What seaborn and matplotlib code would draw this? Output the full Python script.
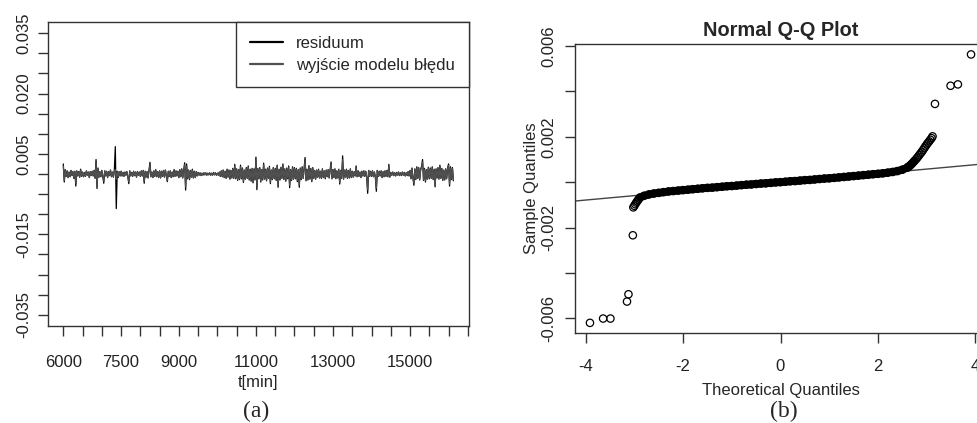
import numpy as np
import pandas as pd
import matplotlib
matplotlib.use("Agg")
import matplotlib.pyplot as plt
import seaborn as sns

# ---------------- panel (a): residual time series ----------------
t_start = 6000      # first sample [min]
t_step = 25         # spacing of the read-off samples [min]

# values in units of 1e-3, one row = 500 minutes
residuum_e3 = [
    2.5, -2.0, 1.1, -0.6, 0.8, -0.9, 0.5, -0.7, 0.9, -0.4, 0.6, -1.1, 0.7, -3.0, 0.8, -0.5, 0.6, -0.8, 1.2, -0.6,
    0.5, -0.7, 0.4, -0.6, 0.8, -0.3, 0.5, -0.9, 0.6, -0.4, 0.7, -0.5, 0.9, -1.1, 3.6, -3.6, 1.5, -0.8, 0.6, -0.7,
    0.9, -0.6, -2.3, 0.8, -0.5, 0.7, -0.9, 0.6, -0.4, 1.0, -0.7, 0.5, -0.8, 0.9, 6.8, -8.6, 0.7, -0.9, 0.6, -0.5,
    0.7, -0.5, 0.4, -0.6, 0.5, -0.3, 0.6, -0.7, -2.4, 0.8, -0.5, 0.4, -0.6, 0.7, -0.4, 0.5, -0.8, 0.6, -0.3, 0.5,
    -0.6, 0.8, -0.5, 0.9, -2.3, 0.7, -0.8, 0.6, -1.0, 0.9, 2.9, -0.7, 0.5, -0.9, 0.8, -0.6, 1.1, -0.7, 0.6, -0.9,
    0.8, -1.0, 0.7, -0.6, 0.9, -0.8, 1.0, -0.5, -1.9, 0.7, -0.6, 0.8, -0.9, 0.5, -0.7, 1.1, -0.6, 0.8, -0.5, 0.7,
    -0.9, 1.1, -0.7, 1.3, -1.0, 0.8, 2.8, -4.0, 2.5, -1.2, 1.0, -1.4, 0.9, -0.8, 1.2, -1.0, 0.7, -0.9, 0.6, -0.5,
    0.4, -0.3, 0.3, -0.4, 0.2, -0.3, 0.3, -0.2, 0.3, -0.3, 0.2, -0.2, 0.3, -0.3, 0.2, -0.3, 0.4, -0.2, 0.3, -0.3,
    0.2, -0.3, 0.5, -0.6, 0.8, -0.7, 1.0, -0.9, 0.7, -1.1, 1.2, -0.8, 1.0, -1.3, 0.9, -1.0, 1.4, -1.1, 2.4, -1.2,
    1.3, -1.6, 1.1, -1.4, 2.2, -1.2, 1.5, -2.1, 1.0, -1.3, 1.6, -1.1, 2.0, -1.5, 1.2, -1.8, 1.4, -2.2, 1.3, -1.5,
    4.2, -3.9, 1.4, -1.2, 1.6, -2.0, 1.1, -1.5, 2.7, -1.3, 1.2, -1.7, 1.5, -1.1, 1.9, -2.4, 1.0, -1.4, 1.6, -1.2,
    1.4, -1.6, 2.2, -3.3, 1.2, -1.5, 1.7, -1.1, 2.5, -1.4, 1.3, -1.8, 1.5, -1.2, 2.0, -3.4, 1.1, -1.6, 1.8, -1.3,
    1.6, -1.2, 1.4, -1.9, 1.1, -3.3, 1.5, -1.4, 1.8, -1.1, 1.3, 4.1, -1.7, 1.2, -1.5, 2.1, -1.3, 1.4, -1.9, 1.6,
    -1.1, 0.9, -1.3, 1.0, -0.8, 1.2, -1.0, 0.7, -1.1, 1.3, -0.9, 0.8, -1.2, 1.0, -0.7, 1.1, -1.0, 0.9, 3.0, -1.2,
    1.1, -0.9, 1.3, -1.2, 0.8, -1.0, 1.2, -2.5, 0.9, -1.1, 4.5, -1.3, 1.0, -0.8, 1.2, -1.1, 0.9, -1.0, 1.3, -0.9,
    0.7, -0.8, 0.6, -0.5, 2.0, -0.7, 0.8, -0.6, 0.5, -0.9, 0.7, -0.5, 0.8, -0.6, 0.7, -0.8, -4.8, 0.9, -0.6, 0.7,
    -0.6, 0.8, -0.7, 0.5, -0.8, -4.3, 0.9, -0.6, 0.7, -0.5, 0.8, -0.9, 0.6, -0.7, 0.8, -0.6, 0.9, -0.7, 2.4, -0.8,
    0.4, -0.3, 0.5, -0.4, 0.3, -0.5, 0.4, -0.3, 0.5, -0.4, 0.3, -0.4, 0.5, -0.3, 0.4, -0.5, 0.3, -0.4, 0.6, -0.5,
    0.9, -1.2, 1.5, -1.0, -2.8, 1.3, -1.4, 1.8, -1.1, 1.6, -1.5, 1.2, 1.9, 3.6, -1.6, 1.4, -2.0, 1.1, -1.3, 1.7,
    -1.2, 1.5, -1.1, 1.8, -1.4, 1.2, -3.2, 1.3, -1.0, 1.6, -1.3, 2.2, -1.1, 1.4, -1.6, 1.0, -1.5, 1.3, -1.2, 1.5,
    2.5, -3.0, 1.8, -1.4, 1.6, -1.7,
]
model_e3 = [
    2.0, -1.6, 0.9, -0.5, 0.7, -0.8, 0.4, -0.6, 0.8, -0.3, 0.5, -0.9, 0.6, -2.3, 0.7, -0.4, 0.5, -0.7, 1.0, -0.5,
    0.4, -0.6, 0.3, -0.5, 0.7, -0.3, 0.4, -0.8, 0.5, -0.3, 0.6, -0.4, 0.8, -0.9, 2.6, -2.9, 1.2, -0.7, 0.5, -0.6,
    0.8, -0.5, -1.8, 0.7, -0.4, 0.6, -0.8, 0.5, -0.3, 0.9, -0.6, 0.4, -0.7, 0.8, 1.1, -1.3, 0.6, -0.8, 0.5, -0.4,
    0.6, -0.4, 0.3, -0.5, 0.4, -0.3, 0.5, -0.6, -1.9, 0.7, -0.4, 0.3, -0.5, 0.6, -0.3, 0.4, -0.7, 0.5, -0.3, 0.4,
    -0.5, 0.7, -0.4, 0.8, -1.8, 0.6, -0.7, 0.5, -0.9, 0.8, 2.3, -0.6, 0.4, -0.8, 0.7, -0.5, 0.9, -0.6, 0.5, -0.8,
    0.7, -0.9, 0.6, -0.5, 0.8, -0.7, 0.9, -0.4, -1.6, 0.6, -0.5, 0.7, -0.8, 0.4, -0.6, 0.9, -0.5, 0.7, -0.4, 0.6,
    -0.8, 0.9, -0.6, 1.1, -0.9, 0.7, 2.3, -3.2, 2.0, -1.0, 0.9, -1.2, 0.8, -0.7, 1.0, -0.9, 0.6, -0.8, 0.5, -0.4,
    0.3, -0.3, 0.2, -0.3, 0.2, -0.2, 0.3, -0.2, 0.2, -0.3, 0.2, -0.2, 0.2, -0.3, 0.2, -0.2, 0.3, -0.2, 0.2, -0.3,
    0.2, -0.3, 0.4, -0.5, 0.7, -0.6, 0.9, -0.8, 0.6, -0.9, 1.0, -0.7, 0.9, -1.1, 0.8, -0.9, 1.2, -0.9, 2.0, -1.0,
    1.1, -1.4, 1.0, -1.2, 1.8, -1.0, 1.3, -1.8, 0.9, -1.1, 1.4, -1.0, 1.7, -1.3, 1.0, -1.5, 1.2, -1.9, 1.1, -1.3,
    3.4, -3.1, 1.2, -1.0, 1.4, -1.7, 1.0, -1.3, 2.3, -1.1, 1.0, -1.5, 1.3, -1.0, 1.6, -2.0, 0.9, -1.2, 1.4, -1.0,
    1.2, -1.4, 1.9, -2.7, 1.0, -1.3, 1.5, -1.0, 2.1, -1.2, 1.1, -1.5, 1.3, -1.0, 1.7, -2.8, 1.0, -1.4, 1.5, -1.1,
    1.4, -1.0, 1.2, -1.6, 1.0, -2.7, 1.3, -1.2, 1.5, -1.0, 1.1, 3.3, -1.5, 1.0, -1.3, 1.8, -1.1, 1.2, -1.6, 1.4,
    -1.0, 0.8, -1.1, 0.9, -0.7, 1.0, -0.9, 0.6, -1.0, 1.1, -0.8, 0.7, -1.0, 0.9, -0.6, 1.0, -0.9, 0.8, 2.5, -1.0,
    1.0, -0.8, 1.1, -1.0, 0.7, -0.9, 1.0, -2.1, 0.8, -1.0, 3.6, -1.1, 0.9, -0.7, 1.0, -1.0, 0.8, -0.9, 1.1, -0.8,
    0.6, -0.7, 0.5, -0.4, 1.7, -0.6, 0.7, -0.5, 0.4, -0.8, 0.6, -0.4, 0.7, -0.5, 0.6, -0.7, -3.9, 0.8, -0.5, 0.6,
    -0.5, 0.7, -0.6, 0.4, -0.7, -3.5, 0.8, -0.5, 0.6, -0.4, 0.7, -0.8, 0.5, -0.6, 0.7, -0.5, 0.8, -0.6, 2.0, -0.7,
    0.3, -0.3, 0.4, -0.3, 0.3, -0.4, 0.3, -0.3, 0.4, -0.3, 0.3, -0.3, 0.4, -0.3, 0.3, -0.4, 0.3, -0.3, 0.5, -0.4,
    0.8, -1.0, 1.3, -0.9, -2.3, 1.1, -1.2, 1.5, -1.0, 1.4, -1.3, 1.0, 1.6, 3.0, -1.4, 1.2, -1.7, 1.0, -1.1, 1.5,
    -1.0, 1.3, -1.0, 1.5, -1.2, 1.0, -2.7, 1.1, -0.9, 1.4, -1.1, 1.8, -1.0, 1.2, -1.4, 0.9, -1.3, 1.1, -1.0, 1.3,
    2.1, -2.5, 1.5, -1.2, 1.4, -1.5,
]
series_names = ["residuum", "wyjście modelu błędu"]

xticks_a = [6000, 6500, 7000, 7500, 8000, 8500, 9000, 9500, 10000, 10500,
            11000, 11500, 12000, 12500, 13000, 13500, 14000, 14500, 15000,
            15500, 16000, 16500]
xticklabels_a = ["6000", "", "", "7500", "", "", "9000", "", "", "",
                 "11000", "", "", "", "13000", "", "", "", "15000",
                 "", "", ""]
yticks_a = [-0.035, -0.030, -0.025, -0.020, -0.015, -0.010, -0.005, 0.0,
            0.005, 0.010, 0.015, 0.020, 0.025, 0.030, 0.035]
yticklabels_a = ["-0.035", "", "", "", "-0.015", "", "", "",
                 "0.005", "", "", "0.020", "", "", "0.035"]

# ---------------- panel (b): normal Q-Q plot ----------------
qq_theoretical = [
    -3.91, -3.64, -3.49, -3.15, -3.12, -3.03,
    -3.02, -3.00, -2.98, -2.96, -2.94, -2.92, -2.90, -2.88,
    -2.80, -2.70, -2.60, -2.50, -2.40, -2.30, -2.20, -2.10, -2.00,
    -1.90, -1.80, -1.70, -1.60, -1.50, -1.40, -1.30, -1.20, -1.10, -1.00,
    -0.90, -0.80, -0.70, -0.60, -0.50, -0.40, -0.30, -0.20, -0.10, 0.00,
    0.10, 0.20, 0.30, 0.40, 0.50, 0.60, 0.70, 0.80, 0.90, 1.00,
    1.10, 1.20, 1.30, 1.40, 1.50, 1.60, 1.70, 1.80, 1.90, 2.00,
    2.10, 2.20, 2.30, 2.40, 2.50, 2.60,
    2.625, 2.65, 2.675, 2.70, 2.725, 2.75, 2.775, 2.80, 2.825, 2.85,
    2.875, 2.90, 2.925, 2.95, 2.975, 3.00, 3.025, 3.05, 3.075, 3.10, 3.12,
    3.17, 3.49, 3.64, 3.91,
]
qq_sample_e3 = [
    -6.20, -6.01, -6.01, -5.26, -4.94, -2.34,
    -1.11, -1.04, -0.97, -0.90, -0.84, -0.78, -0.72, -0.67,
    -0.60, -0.54, -0.50, -0.47, -0.44, -0.41, -0.39, -0.37, -0.35,
    -0.33, -0.31, -0.29, -0.27, -0.25, -0.24, -0.22, -0.20, -0.18, -0.17,
    -0.15, -0.13, -0.11, -0.10, -0.08, -0.06, -0.05, -0.03, -0.01, 0.00,
    0.02, 0.04, 0.05, 0.07, 0.09, 0.10, 0.12, 0.14, 0.16, 0.17,
    0.19, 0.21, 0.23, 0.25, 0.27, 0.29, 0.31, 0.33, 0.35, 0.37,
    0.39, 0.42, 0.45, 0.49, 0.55, 0.64,
    0.68, 0.72, 0.77, 0.82, 0.88, 0.94, 1.00, 1.06, 1.13, 1.20,
    1.27, 1.34, 1.42, 1.50, 1.58, 1.66, 1.73, 1.80, 1.87, 1.94, 2.02,
    3.45, 4.25, 4.31, 5.63,
]
qq_line_intercept = -0.000008
qq_line_slope = 0.000195

xticks_b = [-4, -2, 0, 2, 4]
xticklabels_b = ["-4", "-2", "0", "2", "4"]
yticks_b = [-0.006, -0.004, -0.002, 0.0, 0.002, 0.004, 0.006]
yticklabels_b = ["-0.006", "", "-0.002", "", "0.002", "", "0.006"]

# ---------------- build tables ----------------
n = len(residuum_e3)
t = t_start + t_step * np.arange(n)
df_a = pd.DataFrame({
    "t": t,
    "residuum": np.array(residuum_e3) * 1e-3,
    "model": np.array(model_e3) * 1e-3,
})
df_b = pd.DataFrame({
    "theo": qq_theoretical,
    "sample": np.array(qq_sample_e3) * 1e-3,
})

# ---------------- style ----------------
sns.set_style("ticks")
plt.rcParams["font.family"] = ["Liberation Sans", "DejaVu Sans"]
plt.rcParams["font.size"] = 12
edge = "#333333"
plt.rcParams["axes.edgecolor"] = edge
plt.rcParams["axes.linewidth"] = 1.0

fig = plt.figure(figsize=(9.77, 4.23), dpi=100)
W, H = 977.0, 423.0
ax1 = fig.add_axes([48 / W, 1 - 326 / H, (469 - 48) / W, (326 - 22) / H])
ax2 = fig.add_axes([575 / W, 1 - 333.3 / H, (986 - 575) / W, (333.3 - 44) / H])

# ---- panel (a)
sns.lineplot(data=df_a, x="t", y="residuum", ax=ax1, color="black", lw=0.9,
             estimator=None, sort=False, label=series_names[0])
sns.lineplot(data=df_a, x="t", y="model", ax=ax1, color="#505050", lw=0.9,
             estimator=None, sort=False, label=series_names[1])
ax1.set_xlim(5603, 16530)
ax1.set_ylim(-0.0378, 0.0378)
ax1.set_xticks(xticks_a)
ax1.set_xticklabels(xticklabels_a)
ax1.set_yticks(yticks_a)
ax1.set_yticklabels(yticklabels_a, rotation=90, va="center")
ax1.set_xlabel("t[min]", labelpad=3)
ax1.set_ylabel("")
leg = ax1.legend(loc="upper right", bbox_to_anchor=(1, 1), borderaxespad=0,
                 frameon=True, fancybox=False, framealpha=1, edgecolor=edge,
                 borderpad=0.86, handlelength=2.0, handletextpad=0.75,
                 labelspacing=0.4, fontsize=12)
leg.get_frame().set_linewidth(1.0)
for h in leg.get_lines():
    h.set_linewidth(1.6)

# ---- panel (b)
ax2.axline((0, qq_line_intercept), slope=qq_line_slope, color="#444444",
           lw=1.0, zorder=1)
bulk = df_b[(df_b["theo"] >= -2.88) & (df_b["theo"] <= 2.75)]
sns.lineplot(data=bulk, x="theo", y="sample", ax=ax2, color="black", lw=5.6,
             estimator=None, sort=False, zorder=2)
sns.scatterplot(data=df_b, x="theo", y="sample", ax=ax2, marker="o", s=28,
                facecolor="none", edgecolor="black", linewidth=0.9,
                zorder=3, legend=False)
ax2.set_xlim(-4.217, 4.217)
ax2.set_ylim(-0.00666, 0.00609)
ax2.set_xticks(xticks_b)
ax2.set_xticklabels(xticklabels_b)
ax2.set_yticks(yticks_b)
ax2.set_yticklabels(yticklabels_b, rotation=90, va="center")
ax2.set_xlabel("Theoretical Quantiles", labelpad=7)
ax2.set_ylabel("Sample Quantiles", labelpad=2)
ax2.set_title("Normal Q-Q Plot", fontweight="bold", fontsize=14.4, pad=6)

for ax in (ax1, ax2):
    for s in ax.spines.values():
        s.set_visible(True)
        s.set_color(edge)
    ax.tick_params(axis="both", direction="out", length=7.2, width=1.0,
                   color=edge, labelcolor="#222222")
ax1.tick_params(axis="x", pad=14)
ax1.tick_params(axis="y", pad=5)
ax2.tick_params(axis="x", pad=11)
ax2.tick_params(axis="y", pad=6)

fig.text(256 / W, 1 - 411 / H, "(a)", family="Liberation Serif", fontsize=17,
         ha="center", va="center")
fig.text(784 / W, 1 - 411 / H, "(b)", family="Liberation Serif", fontsize=17,
         ha="center", va="center")

fig.savefig("out.png", dpi=100)
